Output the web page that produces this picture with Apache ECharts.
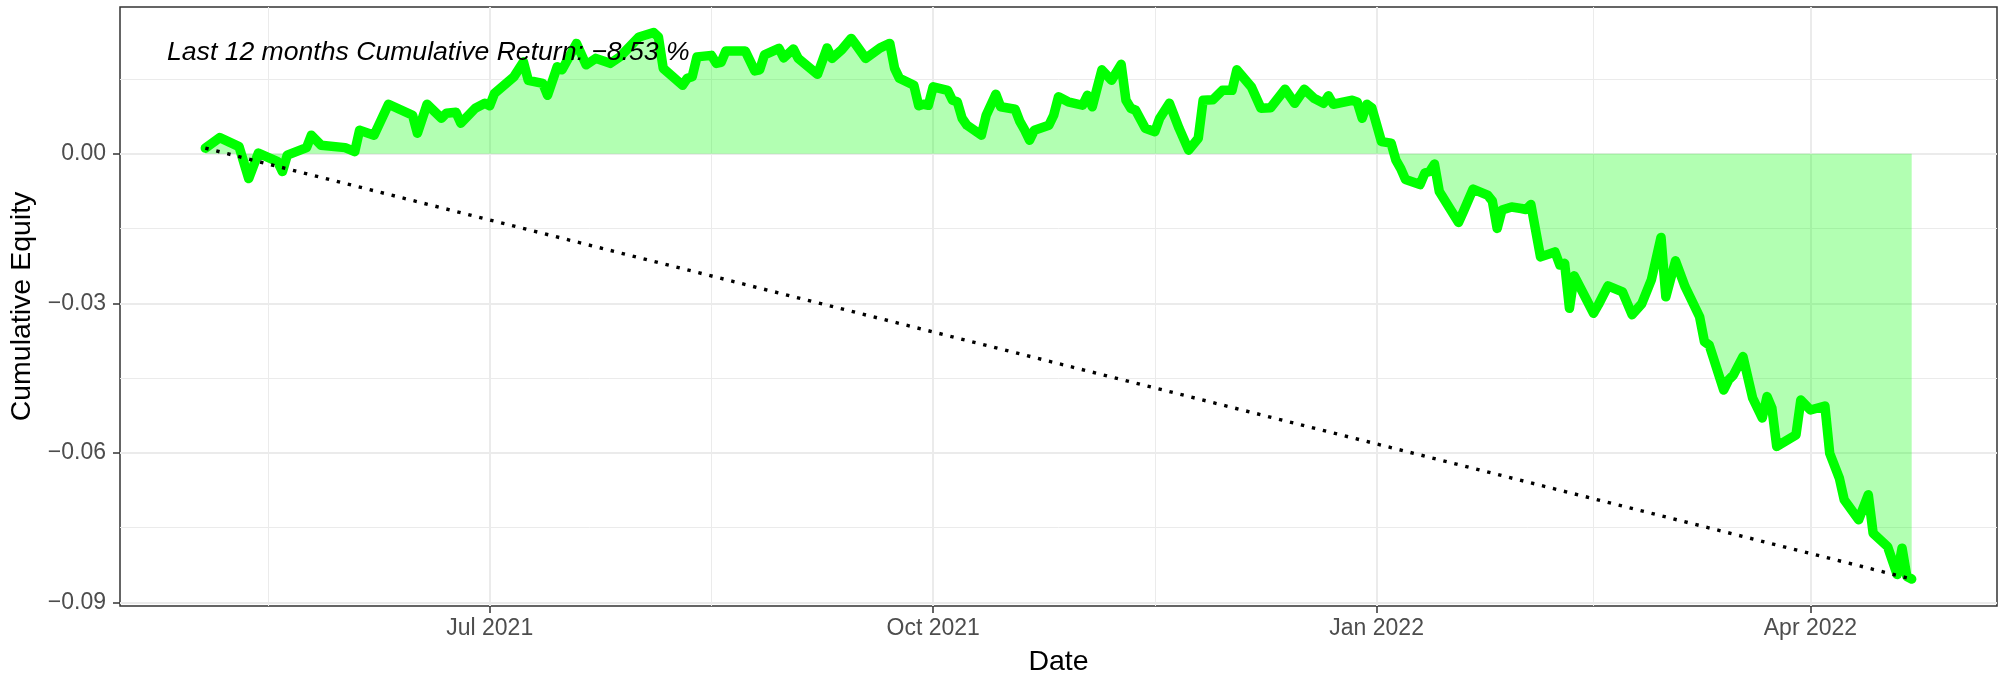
<!DOCTYPE html>
<html>
<head>
<meta charset="utf-8">
<script src="https://cdn.jsdelivr.net/npm/echarts@6/dist/echarts.min.js"></script>
<style>
  html, body { margin: 0; padding: 0; background: #ffffff; }
  #chart { width: 2007px; height: 676px; }
</style>
</head>
<body>
<div id="chart"></div>
<script>
// ---------- data ----------
const dates = [
  '2021-05-03','2021-05-06','2021-05-10','2021-05-12','2021-05-14','2021-05-18','2021-05-19','2021-05-20','2021-05-24','2021-05-25','2021-05-27',
  '2021-06-01','2021-06-03','2021-06-04','2021-06-07','2021-06-10','2021-06-15','2021-06-16','2021-06-18','2021-06-21','2021-06-22','2021-06-24','2021-06-25','2021-06-28','2021-06-30',
  '2021-07-01','2021-07-02','2021-07-06','2021-07-08','2021-07-09','2021-07-12','2021-07-13','2021-07-15','2021-07-16','2021-07-19','2021-07-21','2021-07-23','2021-07-26','2021-07-28',
  '2021-08-01','2021-08-04','2021-08-05','2021-08-06','2021-08-10','2021-08-11','2021-08-12','2021-08-13','2021-08-16','2021-08-17','2021-08-18','2021-08-19','2021-08-23','2021-08-25','2021-08-26','2021-08-27','2021-08-30','2021-08-31',
  '2021-09-02','2021-09-03','2021-09-07','2021-09-09','2021-09-10','2021-09-12','2021-09-14','2021-09-15','2021-09-17','2021-09-20','2021-09-22','2021-09-23','2021-09-24','2021-09-27','2021-09-28','2021-09-29','2021-09-30',
  '2021-10-01','2021-10-04','2021-10-05','2021-10-06','2021-10-07','2021-10-08','2021-10-11','2021-10-12','2021-10-14','2021-10-15','2021-10-18','2021-10-19','2021-10-20','2021-10-21','2021-10-22','2021-10-25','2021-10-26','2021-10-27','2021-10-29',
  '2021-11-01','2021-11-02','2021-11-03','2021-11-05','2021-11-07','2021-11-09','2021-11-10','2021-11-11','2021-11-12','2021-11-14','2021-11-16','2021-11-17','2021-11-19','2021-11-21','2021-11-23','2021-11-25','2021-11-26','2021-11-28','2021-11-30',
  '2021-12-02','2021-12-03','2021-12-06','2021-12-08','2021-12-10','2021-12-13','2021-12-15','2021-12-17','2021-12-19','2021-12-21','2021-12-22','2021-12-23','2021-12-27','2021-12-28','2021-12-29','2021-12-30','2021-12-31',
  '2022-01-02','2022-01-04','2022-01-05','2022-01-06','2022-01-07','2022-01-10','2022-01-11','2022-01-12','2022-01-13','2022-01-14','2022-01-18','2022-01-19','2022-01-21','2022-01-24','2022-01-25','2022-01-26','2022-01-27','2022-01-29','2022-01-31',
  '2022-02-01','2022-02-02','2022-02-04','2022-02-07','2022-02-08','2022-02-09','2022-02-10','2022-02-11','2022-02-15','2022-02-16','2022-02-18','2022-02-21','2022-02-23','2022-02-25','2022-02-27',
  '2022-03-01','2022-03-02','2022-03-04','2022-03-06','2022-03-08','2022-03-09','2022-03-10','2022-03-11','2022-03-14','2022-03-15','2022-03-16','2022-03-18','2022-03-20','2022-03-22','2022-03-23','2022-03-24','2022-03-25','2022-03-29','2022-03-30',
  '2022-04-01','2022-04-04','2022-04-05','2022-04-07','2022-04-08','2022-04-11','2022-04-13','2022-04-14','2022-04-17','2022-04-19','2022-04-20','2022-04-21','2022-04-22'
];

const equity = [
  0.0011, 0.0032, 0.0014, -0.0050, 0.0001, -0.0016, -0.0036, -0.0003, 0.0012, 0.0037, 0.0017,
  0.0012, 0.0004, 0.0047, 0.0037, 0.0099, 0.0077, 0.0041, 0.0099, 0.0071, 0.0081, 0.0083, 0.0061, 0.0091, 0.0101,
  0.0096, 0.0121, 0.0154, 0.0184, 0.0147, 0.0141, 0.0117, 0.0174, 0.0168, 0.0221, 0.0178, 0.0191, 0.0181, 0.0194,
  0.0234, 0.0243, 0.0234, 0.0171, 0.0137, 0.0151, 0.0154, 0.0194, 0.0197, 0.0181, 0.0183, 0.0206, 0.0206, 0.0166, 0.0168, 0.0198, 0.0211, 0.0192,
  0.0210, 0.0191, 0.0159, 0.0212, 0.0191, 0.0208, 0.0231, 0.0218, 0.0191, 0.0212, 0.0221, 0.0171, 0.0151, 0.0137, 0.0096, 0.0099, 0.0097,
  0.0134, 0.0127, 0.0107, 0.0104, 0.0071, 0.0057, 0.0037, 0.0077, 0.0119, 0.0094, 0.0089, 0.0064, 0.0047, 0.0027, 0.0047, 0.0057, 0.0077, 0.0114, 0.0104,
  0.0097, 0.0117, 0.0094, 0.0168, 0.0147, 0.0179, 0.0107, 0.0091, 0.0087, 0.0051, 0.0044, 0.0071, 0.0101, 0.0051, 0.0007, 0.0031, 0.0107, 0.0108, 0.0127,
  0.0127, 0.0168, 0.0134, 0.0091, 0.0092, 0.0129, 0.0101, 0.0129, 0.0111, 0.0101, 0.0116, 0.0099, 0.0107, 0.0103, 0.0071, 0.0099, 0.0092,
  0.0024, 0.0021, -0.0013, -0.0030, -0.0052, -0.0062, -0.0039, -0.0036, -0.0021, -0.0076, -0.0138, -0.0116, -0.0071, -0.0083, -0.0095, -0.0150, -0.0113, -0.0107, -0.0110,
  -0.0112, -0.0102, -0.0207, -0.0197, -0.0223, -0.0220, -0.0310, -0.0245, -0.0320, -0.0303, -0.0265, -0.0277, -0.0323, -0.0301, -0.0253,
  -0.0168, -0.0287, -0.0215, -0.0267, -0.0307, -0.0327, -0.0377, -0.0384, -0.0474, -0.0454, -0.0444, -0.0407, -0.0490, -0.0530, -0.0487, -0.0510, -0.0587, -0.0564, -0.0494,
  -0.0514, -0.0506, -0.0601, -0.0651, -0.0694, -0.0734, -0.0684, -0.0761, -0.0788, -0.0844, -0.0791, -0.0848, -0.0853
];

const xTickDates  = ['2021-07-01', '2021-10-01', '2022-01-01', '2022-04-01'];
const xTickLabels = ['Jul 2021', 'Oct 2021', 'Jan 2022', 'Apr 2022'];
const xMinorDates = ['2021-05-16', '2021-08-16', '2021-11-16', '2022-02-15'];

const yTickValues = [0, -0.03, -0.06, -0.09];
const yTickLabels = ['0.00', '\u22120.03', '\u22120.06', '\u22120.09'];
const yMinorValues = [0.015, -0.015, -0.045, -0.075];

const yMin = -0.0907;
const yMax = 0.0294;

// ---------- build ----------
const FONT = '"Liberation Sans", Arial, Helvetica, sans-serif';
const toTs = s => { const p = s.split('-').map(Number); return Date.UTC(p[0], p[1] - 1, p[2]); };

const lineData = dates.map((d, i) => [toTs(d), equity[i]]);
const firstPt = lineData[0];
const lastPt = lineData[lineData.length - 1];
const span = lastPt[0] - firstPt[0];
const xMin = firstPt[0] - 0.05 * span;
const xMax = lastPt[0] + 0.05 * span;

const xTickTs = xTickDates.map(toTs);
const xMinorTs = xMinorDates.map(toTs);

function nearestLabel(v, values, labels) {
  let best = 0, bd = Infinity;
  values.forEach((t, i) => { const d = Math.abs(t - v); if (d < bd) { bd = d; best = i; } });
  return labels[best];
}

const lastReturn = (equity[equity.length - 1] * 100).toFixed(2).replace('-', '\u2212');
const annotation = 'Last 12 months Cumulative Return: ' + lastReturn + ' %';

const chart = echarts.init(document.getElementById('chart'), null, { renderer: 'canvas', width: 2007, height: 676 });

const option = {
  animation: false,
  backgroundColor: '#ffffff',
  textStyle: { fontFamily: FONT },
  grid: {
    left: 120, right: 10, top: 7, bottom: 70,
    show: true, borderColor: '#333333', borderWidth: 1.5, backgroundColor: 'transparent',
    containLabel: false, outerBoundsMode: 'none'
  },
  xAxis: [
    {
      type: 'value', min: xMin, max: xMax, scale: true,
      name: 'Date', nameLocation: 'middle', nameGap: 42,
      nameTextStyle: { fontSize: 28.5, color: '#000000', fontFamily: FONT },
      axisLine: { show: false, onZero: false },
      axisTick: { show: true, length: 7, lineStyle: { color: '#333333', width: 1.5 }, customValues: xTickTs },
      axisLabel: {
        customValues: xTickTs, fontSize: 23, color: '#4d4d4d', margin: 11, fontFamily: FONT,
        formatter: v => nearestLabel(v, xTickTs, xTickLabels)
      },
      splitLine: { show: true, lineStyle: { color: '#ebebeb', width: 2 } }
    },
    {
      type: 'value', min: xMin, max: xMax, scale: true, position: 'top',
      axisLine: { show: false, onZero: false },
      axisTick: { show: false, customValues: xMinorTs },
      axisLabel: { show: false, customValues: xMinorTs },
      splitLine: { show: true, lineStyle: { color: '#ebebeb', width: 1 } }
    }
  ],
  yAxis: [
    {
      type: 'value', min: yMin, max: yMax,
      name: 'Cumulative Equity', nameLocation: 'middle', nameGap: 82, nameRotate: 90,
      nameTextStyle: { fontSize: 28.5, color: '#000000', fontFamily: FONT },
      axisLine: { show: false, onZero: false },
      axisTick: { show: true, length: 7, lineStyle: { color: '#333333', width: 1.5 }, customValues: yTickValues },
      axisLabel: {
        customValues: yTickValues, fontSize: 23, color: '#4d4d4d', margin: 14, fontFamily: FONT,
        formatter: v => nearestLabel(v, yTickValues, yTickLabels)
      },
      splitLine: { show: true, lineStyle: { color: '#ebebeb', width: 2 } }
    },
    {
      type: 'value', min: yMin, max: yMax, position: 'right',
      axisLine: { show: false, onZero: false },
      axisTick: { show: false, customValues: yMinorValues },
      axisLabel: { show: false, customValues: yMinorValues },
      splitLine: { show: true, lineStyle: { color: '#ebebeb', width: 1 } }
    }
  ],
  series: [
    {
      name: 'Equity', type: 'line', xAxisIndex: 0, yAxisIndex: 0,
      data: lineData, symbol: 'none', silent: true, z: 2,
      lineStyle: { color: '#00ff00', width: 9.5, cap: 'round', join: 'round' },
      areaStyle: { color: 'rgba(0,255,0,0.3)', opacity: 1, origin: 'auto' }
    },
    {
      name: 'Trend', type: 'line', xAxisIndex: 0, yAxisIndex: 0,
      data: [firstPt, lastPt], symbol: 'none', silent: true, z: 3,
      lineStyle: { color: '#000000', width: 3.4, type: [3.4, 7.9], cap: 'butt' }
    }
  ],
  graphic: [
    {
      type: 'text', left: 167, top: 39, z: 100, silent: true,
      style: { text: annotation, font: 'italic 26.6px ' + FONT, fill: '#000000' }
    }
  ]
};

chart.setOption(option);
</script>
</body>
</html>
